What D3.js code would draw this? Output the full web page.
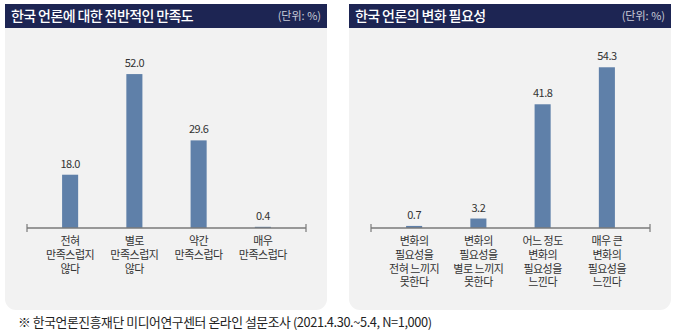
<!DOCTYPE html>
<html><head><meta charset="utf-8">
<script src="https://cdn.jsdelivr.net/npm/d3@7"></script>
<style>
body{margin:0;background:#fff;}
svg text{font-family:"Noto Sans CJK KR","Noto Sans",sans-serif;}
</style></head>
<body><svg id="c" width="680" height="335"></svg>
<script>
const titles = ["한국 언론에 대한 전반적인 만족도", "한국 언론의 변화 필요성"];
const unitLabel = "(단위: %)";
const categories1 = [["전혀","만족스럽지","않다"],["별로","만족스럽지","않다"],["약간","만족스럽다"],["매우","만족스럽다"]];
const values1 = [18.0, 52.0, 29.6, 0.4];
const categories2 = [["변화의","필요성을","전혀 느끼지","못한다"],["변화의","필요성을","별로 느끼지","못한다"],["어느 정도","변화의","필요성을","느낀다"],["매우 큰","변화의","필요성을","느낀다"]];
const values2 = [0.7, 3.2, 41.8, 54.3];
const footnote = "※ 한국언론진흥재단 미디어연구센터 온라인 설문조사 (2021.4.30.~5.4, N=1,000)";

const svg = d3.select("#c");
const navy = "#1d2553", panelBg = "#f2f2f2", barColor = "#5f80a9", textColor = "#333";

function panel(x0, title, cats, vals) {
  const w = 322, top = 4, headerH = 24, bottom = 310, r = 11;
  const g = svg.append("g").attr("transform", `translate(${x0},0)`);
  const p = d3.path();
  p.moveTo(0, top); p.lineTo(w, top); p.lineTo(w, bottom - r);
  p.arcTo(w, bottom, w - r, bottom, r); p.lineTo(r, bottom);
  p.arcTo(0, bottom, 0, bottom - r, r); p.closePath();
  g.append("path").attr("d", p.toString()).attr("fill", panelBg);
  g.append("rect").attr("x", 0).attr("y", top).attr("width", w).attr("height", headerH).attr("fill", navy);
  g.append("text").attr("x", 6).attr("y", top + 17).attr("fill", "#fff")
    .attr("font-size", 14).attr("font-weight", 500).attr("letter-spacing", -0.6).text(title);
  g.append("text").attr("x", w - 6).attr("y", top + 16).attr("fill", "#c9cbd8")
    .attr("text-anchor", "end").attr("font-size", 11).text(unitLabel);

  const axisY = 228;
  const x = d3.scaleBand().domain(d3.range(cats.length)).range([33, 290]).paddingInner(0.75).paddingOuter(0.375);
  const y = d3.scaleLinear().domain([0, 60]).range([axisY, axisY - 60 * 2.96]);

  g.selectAll("rect.bar").data(vals).join("rect").attr("class", "bar")
    .attr("x", (d, i) => x(i)).attr("width", x.bandwidth())
    .attr("y", d => y(d)).attr("height", d => axisY - y(d)).attr("fill", barColor);

  g.selectAll("text.val").data(vals).join("text").attr("class", "val")
    .attr("x", (d, i) => x(i) + x.bandwidth() / 2).attr("y", d => y(d) - 7)
    .attr("text-anchor", "middle").attr("font-size", 11).attr("letter-spacing", -0.5)
    .attr("fill", textColor).text(d => d.toFixed(1));

  const ag = g.append("g").attr("transform", `translate(0,${axisY})`);
  ag.append("line").attr("x1", 22).attr("x2", 301).attr("stroke", "#7a7a7a").attr("stroke-width", 1.5);
  ag.append("line").attr("x1", 22).attr("x2", 22).attr("y1", -4).attr("y2", 4).attr("stroke", "#7a7a7a").attr("stroke-width", 1.2);
  ag.append("line").attr("x1", 301).attr("x2", 301).attr("y1", -4).attr("y2", 4).attr("stroke", "#7a7a7a").attr("stroke-width", 1.2);

  cats.forEach((lines, i) => {
    const cx = x(i) + x.bandwidth() / 2;
    lines.forEach((l, j) => g.append("text").attr("x", cx).attr("y", axisY + 17 + j * 13.8)
      .attr("text-anchor", "middle").attr("font-size", 11).attr("letter-spacing", -0.5)
      .attr("fill", textColor).text(l));
  });
}

panel(5, titles[0], categories1, values1);
panel(349, titles[1], categories2, values2);

svg.append("text").attr("x", 18).attr("y", 327).attr("font-size", 12.8).attr("letter-spacing", -0.4)
  .attr("fill", "#222").text(footnote);
</script></body></html>
